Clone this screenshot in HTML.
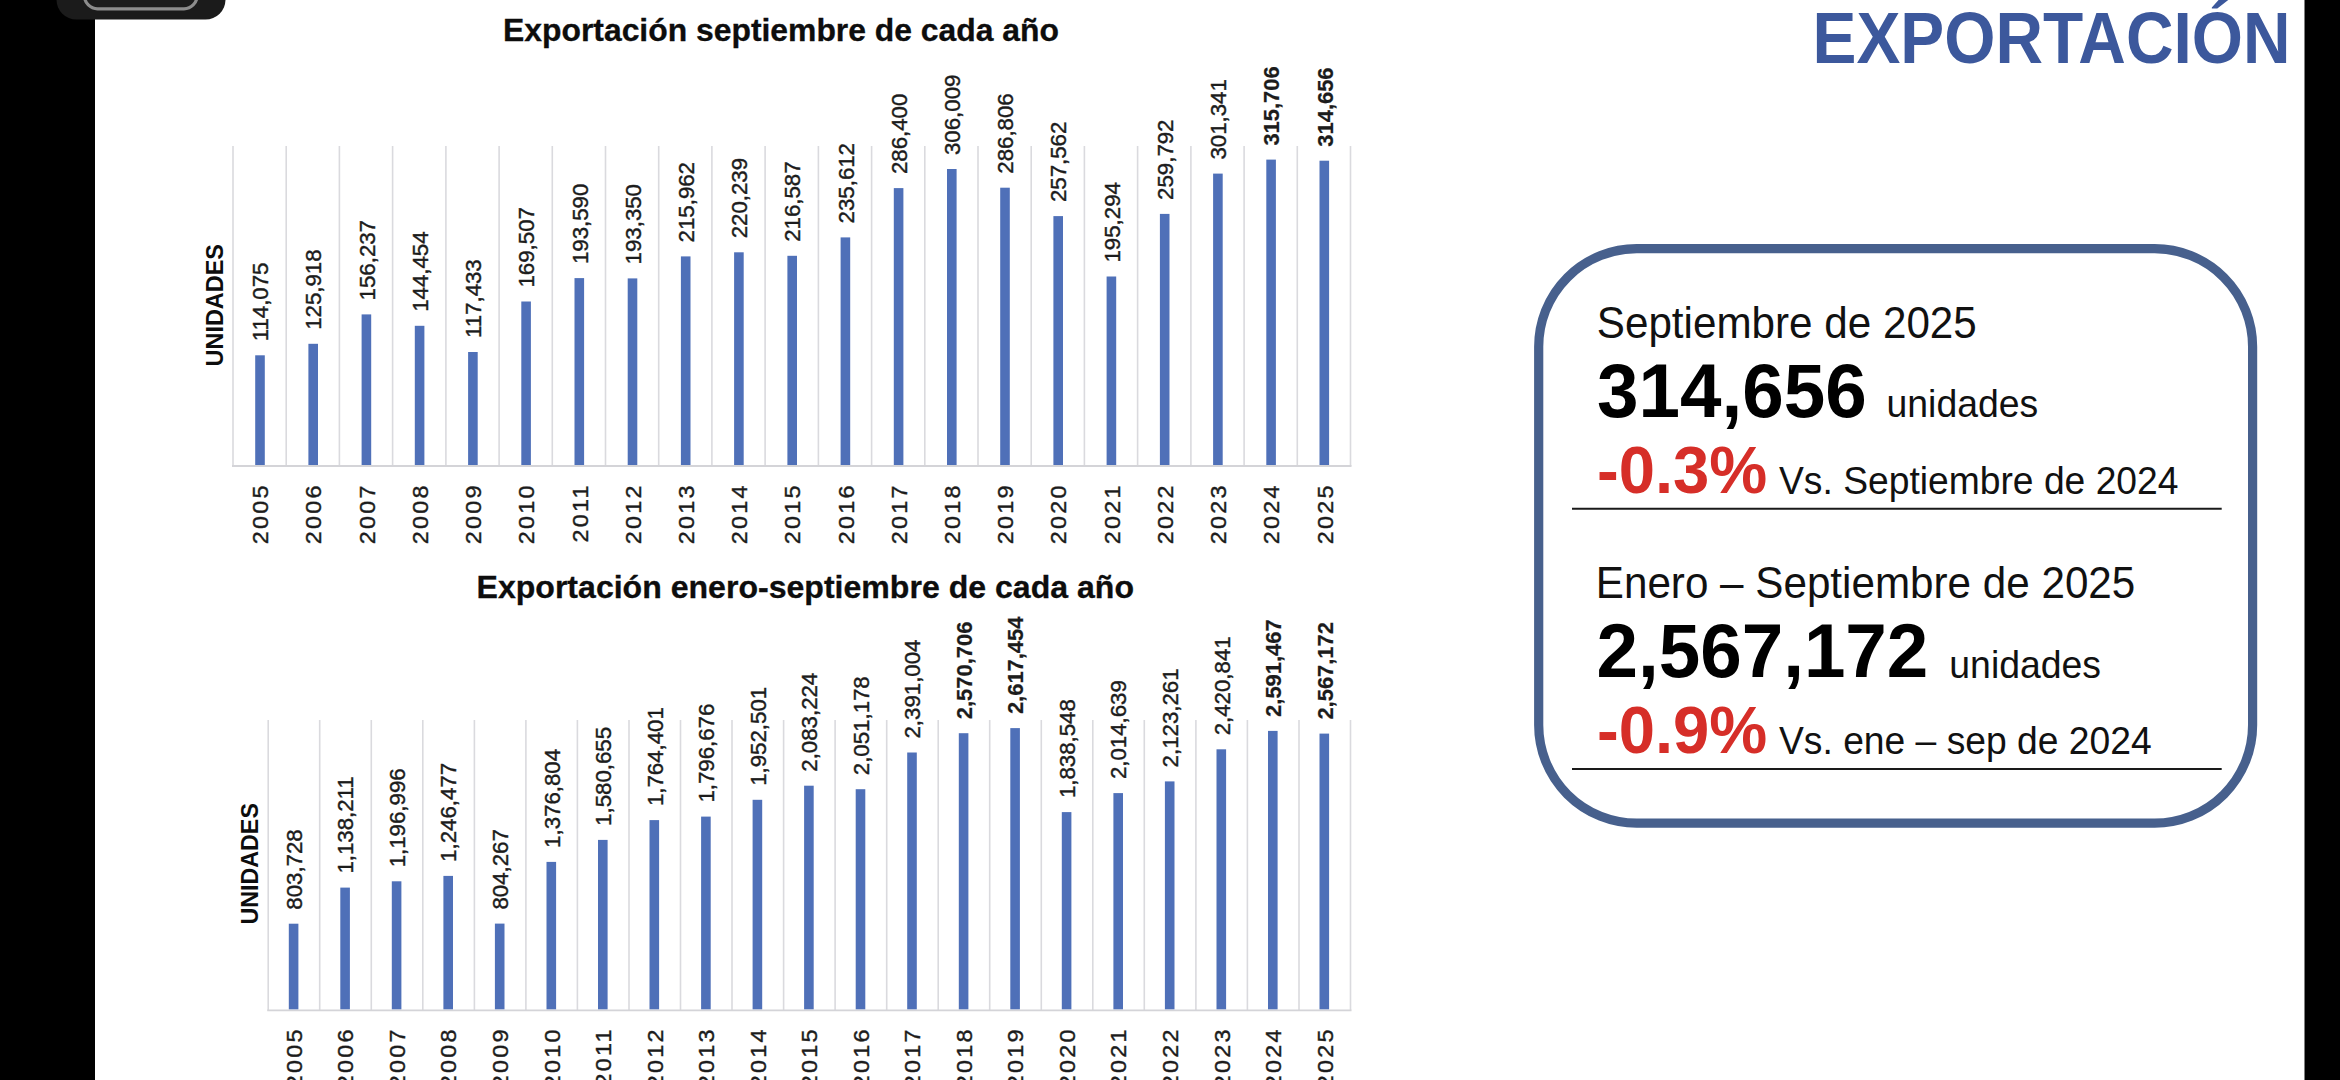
<!DOCTYPE html>
<html lang="es">
<head>
<meta charset="utf-8">
<title>Exportación</title>
<style>
html,body{margin:0;padding:0;background:#fff;}
body{width:2340px;height:1080px;overflow:hidden;position:relative;font-family:"Liberation Sans",sans-serif;}
svg text{white-space:pre;}
</style>
</head>
<body>
<svg width="2340" height="1080" viewBox="0 0 2340 1080" font-family="'Liberation Sans', sans-serif" style="position:absolute;left:0;top:0">
<rect x="0" y="0" width="2340" height="1080" fill="#ffffff"/>
<g id="chart1"><line x1="233.0" y1="146.0" x2="233.0" y2="466.0" stroke="#dadade" stroke-width="1.6"/>
<line x1="286.2" y1="146.0" x2="286.2" y2="466.0" stroke="#dadade" stroke-width="1.6"/>
<line x1="339.4" y1="146.0" x2="339.4" y2="466.0" stroke="#dadade" stroke-width="1.6"/>
<line x1="392.6" y1="146.0" x2="392.6" y2="466.0" stroke="#dadade" stroke-width="1.6"/>
<line x1="445.9" y1="146.0" x2="445.9" y2="466.0" stroke="#dadade" stroke-width="1.6"/>
<line x1="499.1" y1="146.0" x2="499.1" y2="466.0" stroke="#dadade" stroke-width="1.6"/>
<line x1="552.3" y1="146.0" x2="552.3" y2="466.0" stroke="#dadade" stroke-width="1.6"/>
<line x1="605.5" y1="146.0" x2="605.5" y2="466.0" stroke="#dadade" stroke-width="1.6"/>
<line x1="658.7" y1="146.0" x2="658.7" y2="466.0" stroke="#dadade" stroke-width="1.6"/>
<line x1="711.9" y1="146.0" x2="711.9" y2="466.0" stroke="#dadade" stroke-width="1.6"/>
<line x1="765.1" y1="146.0" x2="765.1" y2="466.0" stroke="#dadade" stroke-width="1.6"/>
<line x1="818.4" y1="146.0" x2="818.4" y2="466.0" stroke="#dadade" stroke-width="1.6"/>
<line x1="871.6" y1="146.0" x2="871.6" y2="466.0" stroke="#dadade" stroke-width="1.6"/>
<line x1="924.8" y1="146.0" x2="924.8" y2="466.0" stroke="#dadade" stroke-width="1.6"/>
<line x1="978.0" y1="146.0" x2="978.0" y2="466.0" stroke="#dadade" stroke-width="1.6"/>
<line x1="1031.2" y1="146.0" x2="1031.2" y2="466.0" stroke="#dadade" stroke-width="1.6"/>
<line x1="1084.4" y1="146.0" x2="1084.4" y2="466.0" stroke="#dadade" stroke-width="1.6"/>
<line x1="1137.6" y1="146.0" x2="1137.6" y2="466.0" stroke="#dadade" stroke-width="1.6"/>
<line x1="1190.9" y1="146.0" x2="1190.9" y2="466.0" stroke="#dadade" stroke-width="1.6"/>
<line x1="1244.1" y1="146.0" x2="1244.1" y2="466.0" stroke="#dadade" stroke-width="1.6"/>
<line x1="1297.3" y1="146.0" x2="1297.3" y2="466.0" stroke="#dadade" stroke-width="1.6"/>
<line x1="1350.5" y1="146.0" x2="1350.5" y2="466.0" stroke="#dadade" stroke-width="1.6"/>
<line x1="232.0" y1="466.0" x2="1351.5" y2="466.0" stroke="#d4d4d8" stroke-width="1.8"/>
<rect x="255.2" y="355.3" width="9.6" height="109.7" fill="#4f70b8"/>
<text transform="translate(268.2,341.3) rotate(-90) scale(1.045,1)" font-size="21.3" letter-spacing="0" fill="#1c1c1c" stroke="#1c1c1c" stroke-width="0.4">114,075</text>
<text transform="translate(268.2,483.3) rotate(-90) scale(1.1,1)" font-size="21.3" text-anchor="end" letter-spacing="2.0" fill="#1c1c1c" stroke="#1c1c1c" stroke-width="0.4">2005</text>
<rect x="308.4" y="343.8" width="9.6" height="121.2" fill="#4f70b8"/>
<text transform="translate(321.4,329.8) rotate(-90) scale(1.045,1)" font-size="21.3" letter-spacing="0" fill="#1c1c1c" stroke="#1c1c1c" stroke-width="0.4">125,918</text>
<text transform="translate(321.4,483.3) rotate(-90) scale(1.1,1)" font-size="21.3" text-anchor="end" letter-spacing="2.0" fill="#1c1c1c" stroke="#1c1c1c" stroke-width="0.4">2006</text>
<rect x="361.6" y="314.4" width="9.6" height="150.6" fill="#4f70b8"/>
<text transform="translate(374.6,300.4) rotate(-90) scale(1.045,1)" font-size="21.3" letter-spacing="0" fill="#1c1c1c" stroke="#1c1c1c" stroke-width="0.4">156,237</text>
<text transform="translate(374.6,483.3) rotate(-90) scale(1.1,1)" font-size="21.3" text-anchor="end" letter-spacing="2.0" fill="#1c1c1c" stroke="#1c1c1c" stroke-width="0.4">2007</text>
<rect x="414.8" y="325.8" width="9.6" height="139.2" fill="#4f70b8"/>
<text transform="translate(427.8,311.8) rotate(-90) scale(1.045,1)" font-size="21.3" letter-spacing="0" fill="#1c1c1c" stroke="#1c1c1c" stroke-width="0.4">144,454</text>
<text transform="translate(427.8,483.3) rotate(-90) scale(1.1,1)" font-size="21.3" text-anchor="end" letter-spacing="2.0" fill="#1c1c1c" stroke="#1c1c1c" stroke-width="0.4">2008</text>
<rect x="468.1" y="352.0" width="9.6" height="113.0" fill="#4f70b8"/>
<text transform="translate(481.1,338.0) rotate(-90) scale(1.045,1)" font-size="21.3" letter-spacing="0" fill="#1c1c1c" stroke="#1c1c1c" stroke-width="0.4">117,433</text>
<text transform="translate(481.1,483.3) rotate(-90) scale(1.1,1)" font-size="21.3" text-anchor="end" letter-spacing="2.0" fill="#1c1c1c" stroke="#1c1c1c" stroke-width="0.4">2009</text>
<rect x="521.3" y="301.5" width="9.6" height="163.5" fill="#4f70b8"/>
<text transform="translate(534.3,287.5) rotate(-90) scale(1.045,1)" font-size="21.3" letter-spacing="0" fill="#1c1c1c" stroke="#1c1c1c" stroke-width="0.4">169,507</text>
<text transform="translate(534.3,483.3) rotate(-90) scale(1.1,1)" font-size="21.3" text-anchor="end" letter-spacing="2.0" fill="#1c1c1c" stroke="#1c1c1c" stroke-width="0.4">2010</text>
<rect x="574.5" y="278.1" width="9.6" height="186.9" fill="#4f70b8"/>
<text transform="translate(587.5,264.1) rotate(-90) scale(1.045,1)" font-size="21.3" letter-spacing="0" fill="#1c1c1c" stroke="#1c1c1c" stroke-width="0.4">193,590</text>
<text transform="translate(587.5,483.3) rotate(-90) scale(1.1,1)" font-size="21.3" text-anchor="end" letter-spacing="2.0" fill="#1c1c1c" stroke="#1c1c1c" stroke-width="0.4">2011</text>
<rect x="627.7" y="278.4" width="9.6" height="186.6" fill="#4f70b8"/>
<text transform="translate(640.7,264.4) rotate(-90) scale(1.045,1)" font-size="21.3" letter-spacing="0" fill="#1c1c1c" stroke="#1c1c1c" stroke-width="0.4">193,350</text>
<text transform="translate(640.7,483.3) rotate(-90) scale(1.1,1)" font-size="21.3" text-anchor="end" letter-spacing="2.0" fill="#1c1c1c" stroke="#1c1c1c" stroke-width="0.4">2012</text>
<rect x="680.9" y="256.4" width="9.6" height="208.6" fill="#4f70b8"/>
<text transform="translate(693.9,242.4) rotate(-90) scale(1.045,1)" font-size="21.3" letter-spacing="0" fill="#1c1c1c" stroke="#1c1c1c" stroke-width="0.4">215,962</text>
<text transform="translate(693.9,483.3) rotate(-90) scale(1.1,1)" font-size="21.3" text-anchor="end" letter-spacing="2.0" fill="#1c1c1c" stroke="#1c1c1c" stroke-width="0.4">2013</text>
<rect x="734.1" y="252.3" width="9.6" height="212.7" fill="#4f70b8"/>
<text transform="translate(747.1,238.3) rotate(-90) scale(1.045,1)" font-size="21.3" letter-spacing="0" fill="#1c1c1c" stroke="#1c1c1c" stroke-width="0.4">220,239</text>
<text transform="translate(747.1,483.3) rotate(-90) scale(1.1,1)" font-size="21.3" text-anchor="end" letter-spacing="2.0" fill="#1c1c1c" stroke="#1c1c1c" stroke-width="0.4">2014</text>
<rect x="787.4" y="255.8" width="9.6" height="209.2" fill="#4f70b8"/>
<text transform="translate(800.4,241.8) rotate(-90) scale(1.045,1)" font-size="21.3" letter-spacing="0" fill="#1c1c1c" stroke="#1c1c1c" stroke-width="0.4">216,587</text>
<text transform="translate(800.4,483.3) rotate(-90) scale(1.1,1)" font-size="21.3" text-anchor="end" letter-spacing="2.0" fill="#1c1c1c" stroke="#1c1c1c" stroke-width="0.4">2015</text>
<rect x="840.6" y="237.4" width="9.6" height="227.6" fill="#4f70b8"/>
<text transform="translate(853.6,223.4) rotate(-90) scale(1.045,1)" font-size="21.3" letter-spacing="0" fill="#1c1c1c" stroke="#1c1c1c" stroke-width="0.4">235,612</text>
<text transform="translate(853.6,483.3) rotate(-90) scale(1.1,1)" font-size="21.3" text-anchor="end" letter-spacing="2.0" fill="#1c1c1c" stroke="#1c1c1c" stroke-width="0.4">2016</text>
<rect x="893.8" y="188.1" width="9.6" height="276.9" fill="#4f70b8"/>
<text transform="translate(906.8,174.1) rotate(-90) scale(1.045,1)" font-size="21.3" letter-spacing="0" fill="#1c1c1c" stroke="#1c1c1c" stroke-width="0.4">286,400</text>
<text transform="translate(906.8,483.3) rotate(-90) scale(1.1,1)" font-size="21.3" text-anchor="end" letter-spacing="2.0" fill="#1c1c1c" stroke="#1c1c1c" stroke-width="0.4">2017</text>
<rect x="947.0" y="169.0" width="9.6" height="296.0" fill="#4f70b8"/>
<text transform="translate(960.0,155.0) rotate(-90) scale(1.045,1)" font-size="21.3" letter-spacing="0" fill="#1c1c1c" stroke="#1c1c1c" stroke-width="0.4">306,009</text>
<text transform="translate(960.0,483.3) rotate(-90) scale(1.1,1)" font-size="21.3" text-anchor="end" letter-spacing="2.0" fill="#1c1c1c" stroke="#1c1c1c" stroke-width="0.4">2018</text>
<rect x="1000.2" y="187.7" width="9.6" height="277.3" fill="#4f70b8"/>
<text transform="translate(1013.2,173.7) rotate(-90) scale(1.045,1)" font-size="21.3" letter-spacing="0" fill="#1c1c1c" stroke="#1c1c1c" stroke-width="0.4">286,806</text>
<text transform="translate(1013.2,483.3) rotate(-90) scale(1.1,1)" font-size="21.3" text-anchor="end" letter-spacing="2.0" fill="#1c1c1c" stroke="#1c1c1c" stroke-width="0.4">2019</text>
<rect x="1053.4" y="216.1" width="9.6" height="248.9" fill="#4f70b8"/>
<text transform="translate(1066.4,202.1) rotate(-90) scale(1.045,1)" font-size="21.3" letter-spacing="0" fill="#1c1c1c" stroke="#1c1c1c" stroke-width="0.4">257,562</text>
<text transform="translate(1066.4,483.3) rotate(-90) scale(1.1,1)" font-size="21.3" text-anchor="end" letter-spacing="2.0" fill="#1c1c1c" stroke="#1c1c1c" stroke-width="0.4">2020</text>
<rect x="1106.6" y="276.5" width="9.6" height="188.5" fill="#4f70b8"/>
<text transform="translate(1119.6,262.5) rotate(-90) scale(1.045,1)" font-size="21.3" letter-spacing="0" fill="#1c1c1c" stroke="#1c1c1c" stroke-width="0.4">195,294</text>
<text transform="translate(1119.6,483.3) rotate(-90) scale(1.1,1)" font-size="21.3" text-anchor="end" letter-spacing="2.0" fill="#1c1c1c" stroke="#1c1c1c" stroke-width="0.4">2021</text>
<rect x="1159.9" y="213.9" width="9.6" height="251.1" fill="#4f70b8"/>
<text transform="translate(1172.9,199.9) rotate(-90) scale(1.045,1)" font-size="21.3" letter-spacing="0" fill="#1c1c1c" stroke="#1c1c1c" stroke-width="0.4">259,792</text>
<text transform="translate(1172.9,483.3) rotate(-90) scale(1.1,1)" font-size="21.3" text-anchor="end" letter-spacing="2.0" fill="#1c1c1c" stroke="#1c1c1c" stroke-width="0.4">2022</text>
<rect x="1213.1" y="173.6" width="9.6" height="291.4" fill="#4f70b8"/>
<text transform="translate(1226.1,159.6) rotate(-90) scale(1.045,1)" font-size="21.3" letter-spacing="0" fill="#1c1c1c" stroke="#1c1c1c" stroke-width="0.4">301,341</text>
<text transform="translate(1226.1,483.3) rotate(-90) scale(1.1,1)" font-size="21.3" text-anchor="end" letter-spacing="2.0" fill="#1c1c1c" stroke="#1c1c1c" stroke-width="0.4">2023</text>
<rect x="1266.3" y="159.6" width="9.6" height="305.4" fill="#4f70b8"/>
<text transform="translate(1279.3,145.6) rotate(-90) scale(1.03,1)" font-size="21.3" letter-spacing="0" font-weight="bold" fill="#1c1c1c" stroke="#1c1c1c" stroke-width="0.2">315,706</text>
<text transform="translate(1279.3,483.3) rotate(-90) scale(1.1,1)" font-size="21.3" text-anchor="end" letter-spacing="2.0" fill="#1c1c1c" stroke="#1c1c1c" stroke-width="0.4">2024</text>
<rect x="1319.5" y="160.7" width="9.6" height="304.3" fill="#4f70b8"/>
<text transform="translate(1332.5,146.7) rotate(-90) scale(1.03,1)" font-size="21.3" letter-spacing="0" font-weight="bold" fill="#1c1c1c" stroke="#1c1c1c" stroke-width="0.2">314,656</text>
<text transform="translate(1332.5,483.3) rotate(-90) scale(1.1,1)" font-size="21.3" text-anchor="end" letter-spacing="2.0" fill="#1c1c1c" stroke="#1c1c1c" stroke-width="0.4">2025</text></g>
<g id="chart2"><line x1="268.2" y1="720.0" x2="268.2" y2="1010.3" stroke="#dadade" stroke-width="1.6"/>
<line x1="319.7" y1="720.0" x2="319.7" y2="1010.3" stroke="#dadade" stroke-width="1.6"/>
<line x1="371.3" y1="720.0" x2="371.3" y2="1010.3" stroke="#dadade" stroke-width="1.6"/>
<line x1="422.8" y1="720.0" x2="422.8" y2="1010.3" stroke="#dadade" stroke-width="1.6"/>
<line x1="474.4" y1="720.0" x2="474.4" y2="1010.3" stroke="#dadade" stroke-width="1.6"/>
<line x1="525.9" y1="720.0" x2="525.9" y2="1010.3" stroke="#dadade" stroke-width="1.6"/>
<line x1="577.4" y1="720.0" x2="577.4" y2="1010.3" stroke="#dadade" stroke-width="1.6"/>
<line x1="629.0" y1="720.0" x2="629.0" y2="1010.3" stroke="#dadade" stroke-width="1.6"/>
<line x1="680.5" y1="720.0" x2="680.5" y2="1010.3" stroke="#dadade" stroke-width="1.6"/>
<line x1="732.0" y1="720.0" x2="732.0" y2="1010.3" stroke="#dadade" stroke-width="1.6"/>
<line x1="783.6" y1="720.0" x2="783.6" y2="1010.3" stroke="#dadade" stroke-width="1.6"/>
<line x1="835.1" y1="720.0" x2="835.1" y2="1010.3" stroke="#dadade" stroke-width="1.6"/>
<line x1="886.7" y1="720.0" x2="886.7" y2="1010.3" stroke="#dadade" stroke-width="1.6"/>
<line x1="938.2" y1="720.0" x2="938.2" y2="1010.3" stroke="#dadade" stroke-width="1.6"/>
<line x1="989.7" y1="720.0" x2="989.7" y2="1010.3" stroke="#dadade" stroke-width="1.6"/>
<line x1="1041.3" y1="720.0" x2="1041.3" y2="1010.3" stroke="#dadade" stroke-width="1.6"/>
<line x1="1092.8" y1="720.0" x2="1092.8" y2="1010.3" stroke="#dadade" stroke-width="1.6"/>
<line x1="1144.3" y1="720.0" x2="1144.3" y2="1010.3" stroke="#dadade" stroke-width="1.6"/>
<line x1="1195.9" y1="720.0" x2="1195.9" y2="1010.3" stroke="#dadade" stroke-width="1.6"/>
<line x1="1247.4" y1="720.0" x2="1247.4" y2="1010.3" stroke="#dadade" stroke-width="1.6"/>
<line x1="1299.0" y1="720.0" x2="1299.0" y2="1010.3" stroke="#dadade" stroke-width="1.6"/>
<line x1="1350.5" y1="720.0" x2="1350.5" y2="1010.3" stroke="#dadade" stroke-width="1.6"/>
<line x1="267.2" y1="1010.3" x2="1351.5" y2="1010.3" stroke="#d4d4d8" stroke-width="1.8"/>
<rect x="288.8" y="923.7" width="9.6" height="85.6" fill="#4f70b8"/>
<text transform="translate(301.8,909.7) rotate(-90) scale(1.045,1)" font-size="21.3" letter-spacing="0" fill="#1c1c1c" stroke="#1c1c1c" stroke-width="0.4">803,728</text>
<text transform="translate(301.8,1027.3) rotate(-90) scale(1.1,1)" font-size="21.3" text-anchor="end" letter-spacing="2.0" fill="#1c1c1c" stroke="#1c1c1c" stroke-width="0.4">2005</text>
<rect x="340.3" y="887.6" width="9.6" height="121.7" fill="#4f70b8"/>
<text transform="translate(353.3,873.6) rotate(-90) scale(1.045,1)" font-size="21.3" letter-spacing="0" fill="#1c1c1c" stroke="#1c1c1c" stroke-width="0.4">1,138,211</text>
<text transform="translate(353.3,1027.3) rotate(-90) scale(1.1,1)" font-size="21.3" text-anchor="end" letter-spacing="2.0" fill="#1c1c1c" stroke="#1c1c1c" stroke-width="0.4">2006</text>
<rect x="391.8" y="881.3" width="9.6" height="128.0" fill="#4f70b8"/>
<text transform="translate(404.8,867.3) rotate(-90) scale(1.045,1)" font-size="21.3" letter-spacing="0" fill="#1c1c1c" stroke="#1c1c1c" stroke-width="0.4">1,196,996</text>
<text transform="translate(404.8,1027.3) rotate(-90) scale(1.1,1)" font-size="21.3" text-anchor="end" letter-spacing="2.0" fill="#1c1c1c" stroke="#1c1c1c" stroke-width="0.4">2007</text>
<rect x="443.4" y="875.9" width="9.6" height="133.4" fill="#4f70b8"/>
<text transform="translate(456.4,861.9) rotate(-90) scale(1.045,1)" font-size="21.3" letter-spacing="0" fill="#1c1c1c" stroke="#1c1c1c" stroke-width="0.4">1,246,477</text>
<text transform="translate(456.4,1027.3) rotate(-90) scale(1.1,1)" font-size="21.3" text-anchor="end" letter-spacing="2.0" fill="#1c1c1c" stroke="#1c1c1c" stroke-width="0.4">2008</text>
<rect x="494.9" y="923.6" width="9.6" height="85.7" fill="#4f70b8"/>
<text transform="translate(507.9,909.6) rotate(-90) scale(1.045,1)" font-size="21.3" letter-spacing="0" fill="#1c1c1c" stroke="#1c1c1c" stroke-width="0.4">804,267</text>
<text transform="translate(507.9,1027.3) rotate(-90) scale(1.1,1)" font-size="21.3" text-anchor="end" letter-spacing="2.0" fill="#1c1c1c" stroke="#1c1c1c" stroke-width="0.4">2009</text>
<rect x="546.5" y="861.9" width="9.6" height="147.4" fill="#4f70b8"/>
<text transform="translate(559.5,847.9) rotate(-90) scale(1.045,1)" font-size="21.3" letter-spacing="0" fill="#1c1c1c" stroke="#1c1c1c" stroke-width="0.4">1,376,804</text>
<text transform="translate(559.5,1027.3) rotate(-90) scale(1.1,1)" font-size="21.3" text-anchor="end" letter-spacing="2.0" fill="#1c1c1c" stroke="#1c1c1c" stroke-width="0.4">2010</text>
<rect x="598.0" y="839.9" width="9.6" height="169.4" fill="#4f70b8"/>
<text transform="translate(611.0,825.9) rotate(-90) scale(1.045,1)" font-size="21.3" letter-spacing="0" fill="#1c1c1c" stroke="#1c1c1c" stroke-width="0.4">1,580,655</text>
<text transform="translate(611.0,1027.3) rotate(-90) scale(1.1,1)" font-size="21.3" text-anchor="end" letter-spacing="2.0" fill="#1c1c1c" stroke="#1c1c1c" stroke-width="0.4">2011</text>
<rect x="649.5" y="820.1" width="9.6" height="189.2" fill="#4f70b8"/>
<text transform="translate(662.5,806.1) rotate(-90) scale(1.045,1)" font-size="21.3" letter-spacing="0" fill="#1c1c1c" stroke="#1c1c1c" stroke-width="0.4">1,764,401</text>
<text transform="translate(662.5,1027.3) rotate(-90) scale(1.1,1)" font-size="21.3" text-anchor="end" letter-spacing="2.0" fill="#1c1c1c" stroke="#1c1c1c" stroke-width="0.4">2012</text>
<rect x="701.1" y="816.6" width="9.6" height="192.7" fill="#4f70b8"/>
<text transform="translate(714.1,802.6) rotate(-90) scale(1.045,1)" font-size="21.3" letter-spacing="0" fill="#1c1c1c" stroke="#1c1c1c" stroke-width="0.4">1,796,676</text>
<text transform="translate(714.1,1027.3) rotate(-90) scale(1.1,1)" font-size="21.3" text-anchor="end" letter-spacing="2.0" fill="#1c1c1c" stroke="#1c1c1c" stroke-width="0.4">2013</text>
<rect x="752.6" y="799.8" width="9.6" height="209.5" fill="#4f70b8"/>
<text transform="translate(765.6,785.8) rotate(-90) scale(1.045,1)" font-size="21.3" letter-spacing="0" fill="#1c1c1c" stroke="#1c1c1c" stroke-width="0.4">1,952,501</text>
<text transform="translate(765.6,1027.3) rotate(-90) scale(1.1,1)" font-size="21.3" text-anchor="end" letter-spacing="2.0" fill="#1c1c1c" stroke="#1c1c1c" stroke-width="0.4">2014</text>
<rect x="804.1" y="785.7" width="9.6" height="223.6" fill="#4f70b8"/>
<text transform="translate(817.1,771.7) rotate(-90) scale(1.045,1)" font-size="21.3" letter-spacing="0" fill="#1c1c1c" stroke="#1c1c1c" stroke-width="0.4">2,083,224</text>
<text transform="translate(817.1,1027.3) rotate(-90) scale(1.1,1)" font-size="21.3" text-anchor="end" letter-spacing="2.0" fill="#1c1c1c" stroke="#1c1c1c" stroke-width="0.4">2015</text>
<rect x="855.7" y="789.2" width="9.6" height="220.1" fill="#4f70b8"/>
<text transform="translate(868.7,775.2) rotate(-90) scale(1.045,1)" font-size="21.3" letter-spacing="0" fill="#1c1c1c" stroke="#1c1c1c" stroke-width="0.4">2,051,178</text>
<text transform="translate(868.7,1027.3) rotate(-90) scale(1.1,1)" font-size="21.3" text-anchor="end" letter-spacing="2.0" fill="#1c1c1c" stroke="#1c1c1c" stroke-width="0.4">2016</text>
<rect x="907.2" y="752.5" width="9.6" height="256.8" fill="#4f70b8"/>
<text transform="translate(920.2,738.5) rotate(-90) scale(1.045,1)" font-size="21.3" letter-spacing="0" fill="#1c1c1c" stroke="#1c1c1c" stroke-width="0.4">2,391,004</text>
<text transform="translate(920.2,1027.3) rotate(-90) scale(1.1,1)" font-size="21.3" text-anchor="end" letter-spacing="2.0" fill="#1c1c1c" stroke="#1c1c1c" stroke-width="0.4">2017</text>
<rect x="958.8" y="733.2" width="9.6" height="276.1" fill="#4f70b8"/>
<text transform="translate(971.8,719.2) rotate(-90) scale(1.03,1)" font-size="21.3" letter-spacing="0" font-weight="bold" fill="#1c1c1c" stroke="#1c1c1c" stroke-width="0.2">2,570,706</text>
<text transform="translate(971.8,1027.3) rotate(-90) scale(1.1,1)" font-size="21.3" text-anchor="end" letter-spacing="2.0" fill="#1c1c1c" stroke="#1c1c1c" stroke-width="0.4">2018</text>
<rect x="1010.3" y="728.1" width="9.6" height="281.2" fill="#4f70b8"/>
<text transform="translate(1023.3,714.1) rotate(-90) scale(1.03,1)" font-size="21.3" letter-spacing="0" font-weight="bold" fill="#1c1c1c" stroke="#1c1c1c" stroke-width="0.2">2,617,454</text>
<text transform="translate(1023.3,1027.3) rotate(-90) scale(1.1,1)" font-size="21.3" text-anchor="end" letter-spacing="2.0" fill="#1c1c1c" stroke="#1c1c1c" stroke-width="0.4">2019</text>
<rect x="1061.8" y="812.1" width="9.6" height="197.2" fill="#4f70b8"/>
<text transform="translate(1074.8,798.1) rotate(-90) scale(1.045,1)" font-size="21.3" letter-spacing="0" fill="#1c1c1c" stroke="#1c1c1c" stroke-width="0.4">1,838,548</text>
<text transform="translate(1074.8,1027.3) rotate(-90) scale(1.1,1)" font-size="21.3" text-anchor="end" letter-spacing="2.0" fill="#1c1c1c" stroke="#1c1c1c" stroke-width="0.4">2020</text>
<rect x="1113.4" y="793.1" width="9.6" height="216.2" fill="#4f70b8"/>
<text transform="translate(1126.4,779.1) rotate(-90) scale(1.045,1)" font-size="21.3" letter-spacing="0" fill="#1c1c1c" stroke="#1c1c1c" stroke-width="0.4">2,014,639</text>
<text transform="translate(1126.4,1027.3) rotate(-90) scale(1.1,1)" font-size="21.3" text-anchor="end" letter-spacing="2.0" fill="#1c1c1c" stroke="#1c1c1c" stroke-width="0.4">2021</text>
<rect x="1164.9" y="781.4" width="9.6" height="227.9" fill="#4f70b8"/>
<text transform="translate(1177.9,767.4) rotate(-90) scale(1.045,1)" font-size="21.3" letter-spacing="0" fill="#1c1c1c" stroke="#1c1c1c" stroke-width="0.4">2,123,261</text>
<text transform="translate(1177.9,1027.3) rotate(-90) scale(1.1,1)" font-size="21.3" text-anchor="end" letter-spacing="2.0" fill="#1c1c1c" stroke="#1c1c1c" stroke-width="0.4">2022</text>
<rect x="1216.5" y="749.3" width="9.6" height="260.0" fill="#4f70b8"/>
<text transform="translate(1229.5,735.3) rotate(-90) scale(1.045,1)" font-size="21.3" letter-spacing="0" fill="#1c1c1c" stroke="#1c1c1c" stroke-width="0.4">2,420,841</text>
<text transform="translate(1229.5,1027.3) rotate(-90) scale(1.1,1)" font-size="21.3" text-anchor="end" letter-spacing="2.0" fill="#1c1c1c" stroke="#1c1c1c" stroke-width="0.4">2023</text>
<rect x="1268.0" y="730.9" width="9.6" height="278.4" fill="#4f70b8"/>
<text transform="translate(1281.0,716.9) rotate(-90) scale(1.03,1)" font-size="21.3" letter-spacing="0" font-weight="bold" fill="#1c1c1c" stroke="#1c1c1c" stroke-width="0.2">2,591,467</text>
<text transform="translate(1281.0,1027.3) rotate(-90) scale(1.1,1)" font-size="21.3" text-anchor="end" letter-spacing="2.0" fill="#1c1c1c" stroke="#1c1c1c" stroke-width="0.4">2024</text>
<rect x="1319.5" y="733.6" width="9.6" height="275.7" fill="#4f70b8"/>
<text transform="translate(1332.5,719.6) rotate(-90) scale(1.03,1)" font-size="21.3" letter-spacing="0" font-weight="bold" fill="#1c1c1c" stroke="#1c1c1c" stroke-width="0.2">2,567,172</text>
<text transform="translate(1332.5,1027.3) rotate(-90) scale(1.1,1)" font-size="21.3" text-anchor="end" letter-spacing="2.0" fill="#1c1c1c" stroke="#1c1c1c" stroke-width="0.4">2025</text></g>
<text id="t1" x="503" y="41" font-size="30.5" font-weight="bold" fill="#0d0d0d" stroke="#0d0d0d" stroke-width="0.3" textLength="556" lengthAdjust="spacingAndGlyphs">Exportación septiembre de cada año</text>
<text id="t2" x="476.5" y="598" font-size="30.5" font-weight="bold" fill="#0d0d0d" stroke="#0d0d0d" stroke-width="0.3" textLength="657.5" lengthAdjust="spacingAndGlyphs">Exportación enero-septiembre de cada año</text>
<text id="u1" transform="translate(222.6,366.5) rotate(-90)" font-size="24" font-weight="bold" fill="#0d0d0d" textLength="122.5" lengthAdjust="spacingAndGlyphs">UNIDADES</text>
<text id="u2" transform="translate(257.6,924.6) rotate(-90)" font-size="24" font-weight="bold" fill="#0d0d0d" textLength="121.5" lengthAdjust="spacingAndGlyphs">UNIDADES</text>
<text id="hd" x="1812.5" y="62.7" font-size="72" font-weight="bold" fill="#3c589c" textLength="478" lengthAdjust="spacingAndGlyphs">EXPORTACIÓN</text>
<rect x="1538.7" y="248.7" width="713.9" height="574.4" rx="98" ry="98" fill="none" stroke="#47608d" stroke-width="9.2"/>
<text transform="translate(1596.8,338.0) scale(1,1.03)" font-size="42.2" fill="#111">Septiembre de 2025</text>
<text transform="translate(1597,416.8) scale(1,1.03)" font-size="74.6" font-weight="bold" fill="#000">314,656</text>
<text transform="translate(1886.5,417.4) scale(1,1.03)" font-size="37.4" fill="#111">unidades</text>
<text transform="translate(1597,493.0) scale(1,1.03)" font-size="65.2" font-weight="bold" fill="#d62e28">-0.3%</text>
<text transform="translate(1779,493.6) scale(1,1.03)" font-size="37.25" fill="#111">Vs. Septiembre de 2024</text>
<line x1="1572" y1="508.7" x2="2221.7" y2="508.7" stroke="#1a1a1a" stroke-width="2"/>
<text transform="translate(1595.8,598.2) scale(1,1.03)" font-size="42.2" fill="#111">Enero – Septiembre de 2025</text>
<text transform="translate(1596.5,677.0) scale(1,1.03)" font-size="74.6" font-weight="bold" fill="#000">2,567,172</text>
<text transform="translate(1949.3,677.6) scale(1,1.03)" font-size="37.4" fill="#111">unidades</text>
<text transform="translate(1597,753.2) scale(1,1.03)" font-size="65.2" font-weight="bold" fill="#d62e28">-0.9%</text>
<text transform="translate(1779,753.8) scale(1,1.03)" font-size="37.25" fill="#111">Vs. ene – sep de 2024</text>
<line x1="1572" y1="768.9" x2="2221.7" y2="768.9" stroke="#1a1a1a" stroke-width="2"/>
<rect x="0" y="0" width="95" height="1080" fill="#000"/>
<rect x="2304.5" y="0" width="36" height="1080" fill="#000"/>
<rect x="56.5" y="-40" width="169" height="59.5" rx="20" ry="20" fill="#1b1b1b"/>
<rect x="84.5" y="-40" width="112.5" height="48.8" rx="13" ry="13" fill="none" stroke="#8c8c8c" stroke-width="3.2"/>
</svg>
</body>
</html>
